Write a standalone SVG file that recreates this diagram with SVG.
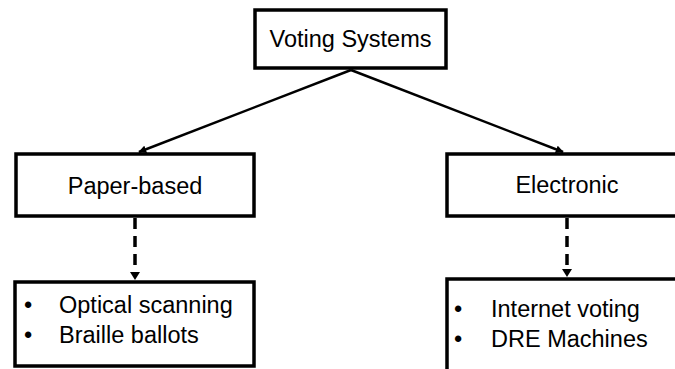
<svg xmlns="http://www.w3.org/2000/svg" width="675" height="369" viewBox="0 0 675 369">
  <style>
    .box { fill: #ffffff; stroke: #000000; stroke-width: 3.5; }
    .lbl { font-family: "Liberation Sans", Arial, sans-serif; font-size: 23.5px; fill: #000000; }
    .solid { fill: none; stroke: #000000; stroke-width: 2.5; }
    .dash { fill: none; stroke: #000000; stroke-width: 3.5; stroke-dasharray: 11 7; }
  </style>
  <defs>
    <marker id="arrow" viewBox="0 0 10 10" refX="9" refY="5" markerWidth="8" markerHeight="8" markerUnits="userSpaceOnUse" orient="auto">
      <path d="M0,0 L10,5 L0,10 z" fill="#000000"/>
    </marker>
  </defs>
  <rect width="675" height="369" fill="#ffffff"/>

  <g id="connectors">
    <line class="solid" x1="351" y1="70" x2="139" y2="152" marker-end="url(#arrow)"/>
    <line class="solid" x1="351" y1="70" x2="563" y2="152" marker-end="url(#arrow)"/>
    <line class="dash" x1="135" y1="218" x2="135" y2="273"/>
    <path d="M130,272 L140,272 L135,280 z" fill="#000000"/>
    <line class="dash" x1="567" y1="218" x2="567" y2="270"/>
    <path d="M562,269 L572,269 L567,277 z" fill="#000000"/>
  </g>

  <g id="voting-systems">
    <rect class="box" x="255" y="10" width="191" height="58"/>
    <text class="lbl" x="350.5" y="47" text-anchor="middle">Voting Systems</text>
  </g>

  <g id="paper-based">
    <rect class="box" x="16" y="154" width="238" height="62"/>
    <text class="lbl" x="135" y="194" text-anchor="middle">Paper-based</text>
  </g>

  <g id="electronic">
    <rect class="box" x="447" y="154" width="240" height="62"/>
    <text class="lbl" x="567" y="193" text-anchor="middle">Electronic</text>
  </g>

  <g id="paper-list">
    <rect class="box" x="15" y="282" width="239" height="84"/>
    <text class="lbl" x="24" y="313">•</text>
    <text class="lbl" x="59" y="313">Optical scanning</text>
    <text class="lbl" x="24" y="343">•</text>
    <text class="lbl" x="59" y="343">Braille ballots</text>
  </g>

  <g id="electronic-list">
    <rect class="box" x="447" y="279" width="240" height="100"/>
    <text class="lbl" x="454" y="317">•</text>
    <text class="lbl" x="491" y="317">Internet voting</text>
    <text class="lbl" x="454" y="347">•</text>
    <text class="lbl" x="491" y="347">DRE Machines</text>
  </g>
</svg>
